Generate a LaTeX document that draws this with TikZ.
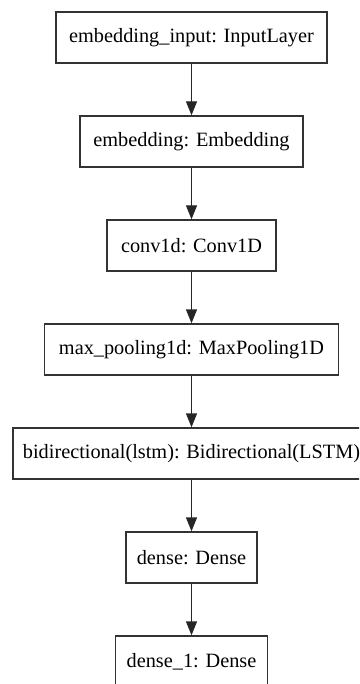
\documentclass[tikz,border=0pt]{standalone}
\usepackage{fontspec}
\setmainfont{Liberation Serif}
\usetikzlibrary{arrows.meta}
\begin{document}
\begin{tikzpicture}[x=1pt,y=-1pt,
  layer/.style={draw=black!80, line width=1.4pt, fill=white, inner sep=0pt,
    minimum height=51pt, font=\fontsize{20.3}{23}\selectfont},
  flow/.style={draw=black!85, line width=1.4pt, -{Triangle[length=14pt,width=11pt]}}]
  \useasboundingbox (0,0) rectangle (359,684);
  \clip (0,0) rectangle (359,684);
  \fill[white] (0,0) rectangle (359,684);
  \node[layer, minimum width=271pt] (inp)  at (191.5,37.5)  {embedding\_input: InputLayer};
  \node[layer, minimum width=223pt] (emb)  at (191.5,141.5) {embedding: Embedding};
  \node[layer, minimum width=169pt] (conv) at (191.5,245.5) {conv1d: Conv1D};
  \node[layer, minimum width=294pt] (pool) at (191.5,349.5) {max\_pooling1d: MaxPooling1D};
  \node[layer, minimum width=357pt] (bid)  at (191.5,453.5) {bidirectional(lstm): Bidirectional(LSTM)};
  \node[layer, minimum width=131pt] (d0)   at (191.5,557.5) {dense: Dense};
  \node[layer, minimum width=152pt] (d1)   at (191.5,661.5) {dense\_1: Dense};
  \draw[flow] (inp)  -- (emb);
  \draw[flow] (emb)  -- (conv);
  \draw[flow] (conv) -- (pool);
  \draw[flow] (pool) -- (bid);
  \draw[flow] (bid)  -- (d0);
  \draw[flow] (d0)   -- (d1);
\end{tikzpicture}
\end{document}
